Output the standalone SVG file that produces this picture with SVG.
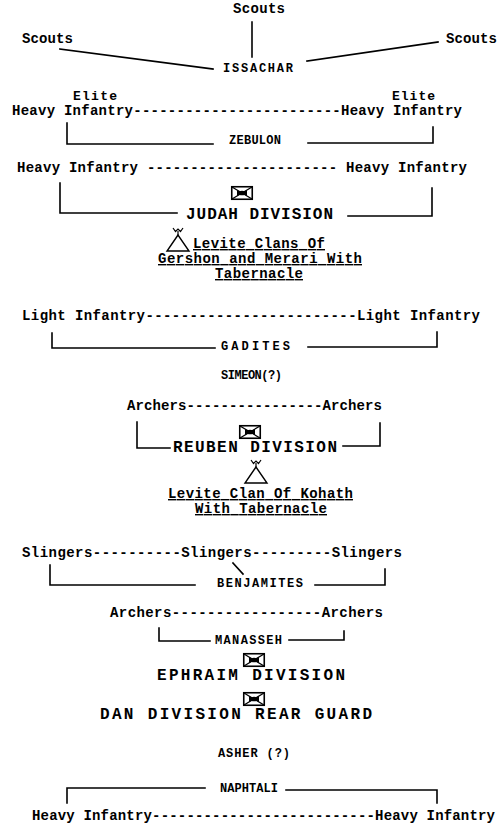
<svg xmlns="http://www.w3.org/2000/svg" xmlns:xlink="http://www.w3.org/1999/xlink" width="504" height="832" viewBox="0 0 504 832">
<style>
.t{font-family:"Liberation Mono","Courier New",monospace;font-weight:bold;font-size:14px;fill:#000}
.s{font-size:12px}
.e{font-size:13px}
.d{font-size:16px}
.u{text-decoration:underline}
.ln{stroke:#000;stroke-width:1.6;fill:none;stroke-linecap:square}
</style>
<defs>
<g id="boxx">
<rect x="0.75" y="0.75" width="20.5" height="12.5" fill="#fff" stroke="#000" stroke-width="1.6"/>
<path d="M1,1 L21,13 M1,13 L21,1" stroke="#000" stroke-width="1.3"/>
<path d="M6,4 L11,7 L6,10 Z M16,4 L11,7 L16,10 Z" fill="#000"/>
<ellipse cx="11" cy="7" rx="3.5" ry="2.3" fill="#000"/>
</g>
<g id="tent">
<path d="M0,0 L-11,16 L11,16 Z" fill="none" stroke="#000" stroke-width="1.4" stroke-linejoin="miter"/>
<path d="M0,0 L0,-4 M-5,-7 L-2.5,-3.5 L0,-6 L2.5,-3.5 L5,-7" fill="none" stroke="#000" stroke-width="1.2"/>
</g>
</defs>
<rect width="504" height="832" fill="#fff"/>

<g id="connectors" class="ln">
<path d="M252,22 L252,57"/>
<path d="M60,49 L213,69"/>
<path d="M307,61 L438,42"/>
<path d="M67,123 L67,144 L213,144"/>
<path d="M308,143 L433,143 L433,127"/>
<path d="M60,183 L60,213 L177,213"/>
<path d="M348,216 L432,216 L432,188"/>
<path d="M52,333 L52,348 L215,348"/>
<path d="M308,347 L437,347 L437,332"/>
<path d="M137,422 L137,448 L170,448"/>
<path d="M343,446 L380,446 L380,423"/>
<path d="M233,563 L243,574"/>
<path d="M50,565 L50,585 L195,585"/>
<path d="M315,585 L385,585 L385,569"/>
<path d="M159,628 L159,641 L210,641"/>
<path d="M289,640 L344,640 L344,631"/>
<path d="M67,803 L67,788 L205,788"/>
<path d="M286,790 L437,790 L437,803"/>
</g>

<g id="scouts-top"><text class="t" x="233" y="13" textLength="52">Scouts</text></g>
<g id="scouts-left"><text class="t" x="22" y="43" textLength="51">Scouts</text></g>
<g id="scouts-right"><text class="t" x="446" y="43" textLength="51">Scouts</text></g>
<g id="issachar"><text class="t s" x="223" y="72" textLength="70">ISSACHAR</text></g>

<g id="elite-heavy-infantry">
<text class="t e" x="73" y="100" textLength="44">Elite</text>
<text class="t e" x="392" y="100" textLength="43">Elite</text>
<text class="t" x="12" y="115" textLength="450">Heavy Infantry------------------------Heavy Infantry</text>
</g>
<g id="zebulon"><text class="t s" x="229" y="144" textLength="52">ZEBULON</text></g>

<g id="heavy-infantry-1"><text class="t" x="17" y="172" textLength="450">Heavy Infantry ---------------------- Heavy Infantry</text></g>
<g id="judah-division">
<use xlink:href="#boxx" x="231" y="186"/>
<text class="t d" x="186" y="219" textLength="147">JUDAH DIVISION</text>
</g>
<g id="levite-gershon-merari">
<use xlink:href="#tent" x="178" y="235"/>
<text class="t u" x="193" y="248" textLength="132">Levite Clans Of</text>
<text class="t u" x="158" y="263" textLength="204">Gershon and Merari With</text>
<text class="t u" x="215" y="278" textLength="88">Tabernacle</text>
</g>

<g id="light-infantry"><text class="t" x="22" y="320" textLength="458">Light Infantry------------------------Light Infantry</text></g>
<g id="gadites"><text class="t s" x="221" y="350" textLength="69">GADITES</text></g>
<g id="simeon"><text class="t s" x="221" y="379" textLength="61">SIMEON(?)</text></g>

<g id="archers-1"><text class="t" x="127" y="410" textLength="255">Archers----------------Archers</text></g>
<g id="reuben-division">
<use xlink:href="#boxx" x="239" y="425"/>
<text class="t d" x="173" y="452" textLength="164">REUBEN DIVISION</text>
</g>
<g id="levite-kohath">
<use xlink:href="#tent" x="256" y="467"/>
<text class="t u" x="168" y="498" textLength="185">Levite Clan Of Kohath</text>
<text class="t u" x="195" y="513" textLength="132">With Tabernacle</text>
</g>

<g id="slingers"><text class="t" x="22" y="557" textLength="380">Slingers----------Slingers---------Slingers</text></g>
<g id="benjamites"><text class="t s" x="217" y="587" textLength="86">BENJAMITES</text></g>

<g id="archers-2"><text class="t" x="110" y="617" textLength="273">Archers-----------------Archers</text></g>
<g id="manasseh"><text class="t s" x="215" y="644" textLength="67">MANASSEH</text></g>

<g id="ephraim-division">
<use xlink:href="#boxx" x="243" y="653"/>
<text class="t d" x="157" y="680" textLength="188">EPHRAIM DIVISION</text>
</g>
<g id="dan-division">
<use xlink:href="#boxx" x="243" y="692"/>
<text class="t d" x="100" y="719" textLength="272">DAN DIVISION REAR GUARD</text>
</g>
<g id="asher"><text class="t s" x="218" y="757" textLength="72">ASHER (?)</text></g>
<g id="naphtali"><text class="t s" x="220" y="792" textLength="58">NAPHTALI</text></g>
<g id="heavy-infantry-2"><text class="t" x="32" y="820" textLength="463">Heavy Infantry--------------------------Heavy Infantry</text></g>
</svg>
